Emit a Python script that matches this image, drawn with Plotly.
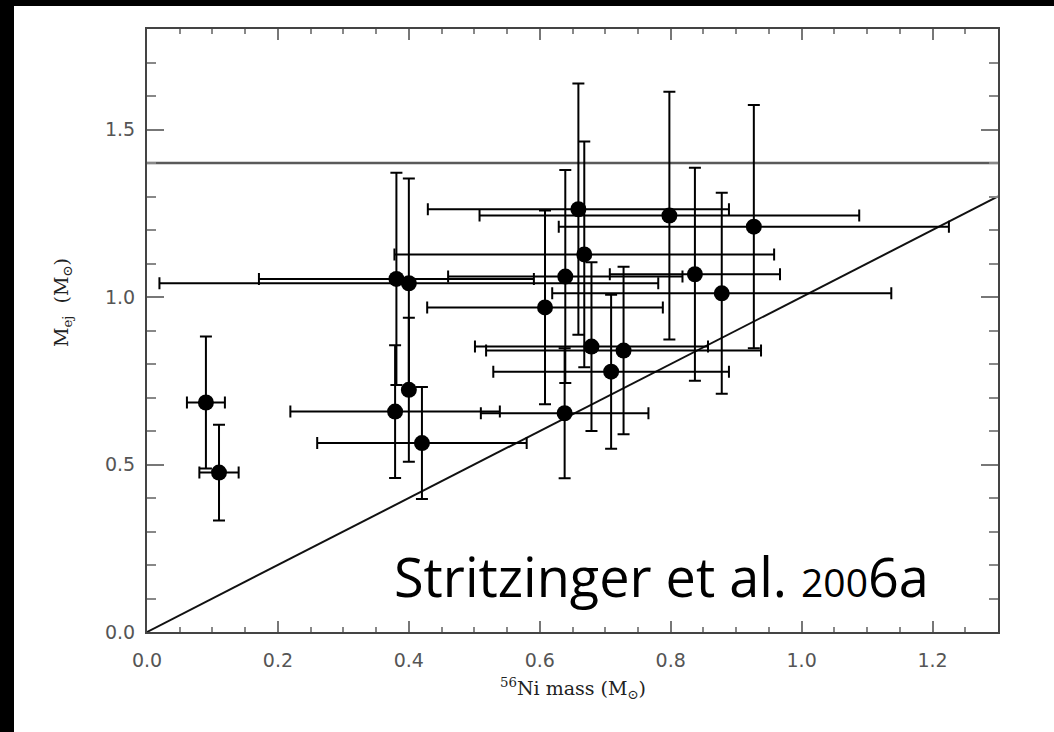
import plotly.graph_objects as go

# 56Ni mass vs. ejected mass, with 1-sigma errors (solar masses)
ni_mass = [0.090, 0.110, 0.381, 0.400, 0.379, 0.400, 0.420, 0.608, 0.639, 0.659,
           0.668, 0.679, 0.638, 0.709, 0.728, 0.798, 0.837, 0.878, 0.927]
ni_err = [0.029, 0.030, 0.210, 0.381, 0.160, 0.000, 0.160, 0.180, 0.179, 0.230,
          0.290, 0.178, 0.128, 0.180, 0.210, 0.290, 0.130, 0.259, 0.298]
m_ej = [0.685, 0.476, 1.054, 1.041, 0.658, 0.723, 0.564, 0.969, 1.061, 1.262,
        1.127, 0.852, 0.653, 0.777, 0.840, 1.243, 1.068, 1.011, 1.210]
m_ej_err = [0.197, 0.143, 0.317, 0.313, 0.198, 0.215, 0.167, 0.289, 0.318, 0.375,
            0.337, 0.252, 0.194, 0.230, 0.250, 0.370, 0.318, 0.300, 0.363]

chandrasekhar = 1.4          # Chandrasekhar mass
equality_line = [0.0, 1.3]   # M_ej = M_Ni

W, H = 1054, 732
L, R, T, B = 147, 56, 29, 100

fig = go.Figure()

fig.add_trace(go.Scatter(
    x=equality_line, y=equality_line, mode="lines",
    line=dict(color="#111", width=2), hoverinfo="skip", showlegend=False))

fig.add_trace(go.Scatter(
    x=[0.0, 1.3], y=[chandrasekhar, chandrasekhar], mode="lines",
    line=dict(color="#5a5a5a", width=2.5), hoverinfo="skip", showlegend=False))

fig.add_trace(go.Scatter(
    x=ni_mass, y=m_ej, mode="markers",
    marker=dict(color="black", size=16, line=dict(width=0)),
    error_x=dict(type="data", array=ni_err, color="black", thickness=2, width=6),
    error_y=dict(type="data", array=m_ej_err, color="black", thickness=2, width=6),
    showlegend=False))

tick_font = dict(family="DejaVu Sans, Liberation Sans, sans-serif", size=19, color="#555")
fig.update_xaxes(
    range=[0, 1.3], dtick=0.2, tick0=0, tickformat=".1f",
    ticks="inside", ticklen=11, tickwidth=2, tickcolor="#777",
    minor=dict(dtick=0.05, ticks="inside", ticklen=5, tickwidth=2, tickcolor="#888"),
    showline=True, linecolor="#444", linewidth=2, mirror="ticks",
    showgrid=False, zeroline=False, tickfont=tick_font, ticklabelstandoff=10)
fig.update_yaxes(
    range=[0, 1.8], dtick=0.5, tick0=0, tickformat=".1f",
    ticks="inside", ticklen=17, tickwidth=2, tickcolor="#777",
    minor=dict(dtick=0.1, ticks="inside", ticklen=9, tickwidth=2, tickcolor="#888"),
    showline=True, linecolor="#444", linewidth=2, mirror="ticks",
    showgrid=False, zeroline=False, tickfont=tick_font, ticklabelstandoff=6)

pw = W - L - R
ph = H - T - B


def px_to_paper_x(px):
    return (px - L) / pw


def px_to_paper_y(py):
    return (H - B - py) / ph


serif = dict(family="DejaVu Serif, Liberation Serif, serif", size=19, color="#222")

fig.add_annotation(
    text="M<sub>ej</sub>  (M<sub>⊙</sub>)", textangle=-90,
    xref="paper", yref="paper", x=px_to_paper_x(62), y=px_to_paper_y(303),
    showarrow=False, font=serif, xanchor="center", yanchor="middle")

fig.add_annotation(
    text="<sup>56</sup>Ni mass (M<sub>⊙</sub>)",
    xref="paper", yref="paper", x=px_to_paper_x(573), y=px_to_paper_y(688),
    showarrow=False, font=serif, xanchor="center", yanchor="middle")

fig.add_annotation(
    text="Stritzinger et al. <span style='font-size:39px'>200</span>6a",
    xref="x", yref="y", x=0.374, y=0.166,
    showarrow=False, xanchor="left", yanchor="middle",
    font=dict(family="Open Sans, Lato, sans-serif", size=54, color="black"))

# dark border bands along the top and left edges
fig.add_shape(type="rect", xref="paper", yref="paper",
              x0=px_to_paper_x(0), x1=px_to_paper_x(14),
              y0=px_to_paper_y(H), y1=px_to_paper_y(0),
              fillcolor="black", line=dict(width=0), layer="above")
fig.add_shape(type="rect", xref="paper", yref="paper",
              x0=px_to_paper_x(0), x1=px_to_paper_x(W),
              y0=px_to_paper_y(6), y1=px_to_paper_y(0),
              fillcolor="black", line=dict(width=0), layer="above")

fig.update_layout(
    width=W, height=H,
    margin=dict(l=L, r=R, t=T, b=B),
    paper_bgcolor="white", plot_bgcolor="white",
    showlegend=False)

fig.write_html("out.html")
